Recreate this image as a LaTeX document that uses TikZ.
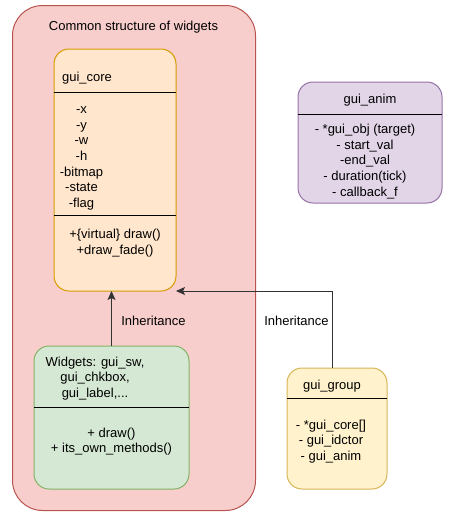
\documentclass[tikz,border=0pt]{standalone}
\usepackage{fontspec}
\setmainfont{Liberation Sans}
\usetikzlibrary{arrows.meta,calc}
\definecolor{outerfill}{HTML}{F8CECC}
\definecolor{outerline}{HTML}{B85450}
\definecolor{corefill}{HTML}{FFE6CC}
\definecolor{coreline}{HTML}{D79B00}
\definecolor{widfill}{HTML}{D5E8D4}
\definecolor{widline}{HTML}{82B366}
\definecolor{animfill}{HTML}{E1D5E7}
\definecolor{animline}{HTML}{9673A6}
\definecolor{grpfill}{HTML}{FFF2CC}
\definecolor{grpline}{HTML}{D6B656}
\definecolor{edgecol}{HTML}{333333}
\begin{document}
\begin{tikzpicture}[x=1pt,y=-1pt,
  every node/.style={font=\fontsize{13}{15.6}\selectfont, inner sep=0pt, outer sep=0pt},
  box/.style={draw, line width=1pt, rounded corners=15pt, anchor=north west},
  txt/.style={align=center, yshift=-1.5pt},
  sep/.style={line width=1pt, black},
  conn/.style={draw=edgecol, line width=1pt, -{Stealth[length=9pt,width=8pt,inset=2pt]}}]
\useasboundingbox (0,0) rectangle (459,517);

% container for the shared widget structure
\node[box, fill=outerfill, draw=outerline, rounded corners=30pt,
      minimum width=243pt, minimum height=505pt] (outer) at (12.5,5.5) {};
\node[txt] (title) at (133.5,26) {Common structure of widgets};

% gui_core class
\node[box, fill=corefill, draw=coreline, minimum width=122pt, minimum height=242pt] (core) at (54,49) {};
\draw[sep] ($(core.north west)+(0,43)$) -- ($(core.north east)+(0,43)$);
\draw[sep] ($(core.north west)+(0,166)$) -- ($(core.north east)+(0,166)$);
\node[txt] (coretitle) at (87,77) {gui\_core};
\node[txt] (coreattr) at (81.5,157) {-x\\-y\\-w\\-h\\-bitmap\\-state\\-flag};
\node[txt] (coremeth) at (115,241.5) {+\{virtual\} draw()\\+draw\_fade()};

% concrete widgets
\node[box, fill=widfill, draw=widline, minimum width=155pt, minimum height=143pt] (widgets) at (34,346) {};
\draw[sep] ($(widgets.north west)+(0,61)$) -- ($(widgets.north east)+(0,61)$);
\node[txt] (widtitle) at (95,377) {Widgets: gui\_sw,\\gui\_chkbox,\\gui\_label,...};
\node[txt] (widmeth) at (111.5,440) {+ draw()\\+ its\_own\_methods()};

% gui_anim class
\node[box, fill=animfill, draw=animline, minimum width=144pt, minimum height=121pt] (anim) at (298,82) {};
\draw[sep] ($(anim.north west)+(0,32)$) -- ($(anim.north east)+(0,32)$);
\node[txt] (animtitle) at (370,99) {gui\_anim};
\node[txt] (animattr) at (365,160) {- *gui\_obj (target)\\- start\_val\\-end\_val\\- duration(tick)\\- callback\_f};

% gui_group class
\node[box, fill=grpfill, draw=grpline, minimum width=100pt, minimum height=121pt] (group) at (287,368) {};
\draw[sep] ($(group.north west)+(0,30)$) -- ($(group.north east)+(0,30)$);
\node[txt] (grptitle) at (332,385) {gui\_group};
\node[txt] (grpattr) at (331,440) {- *gui\_core[]\\- gui\_idctor\\- gui\_anim};

% inheritance connectors
\coordinate (grpout) at ($(group.north)+(-5,0)$);
\draw[conn] (widgets.north) -- (widgets.north |- core.south);
\draw[conn] (grpout) |- (core.south east);
\node[txt] (inh1) at (153.5,319) {Inheritance};
\node[txt] (inh2) at (296.5,319) {Inheritance};
\end{tikzpicture}
\end{document}
